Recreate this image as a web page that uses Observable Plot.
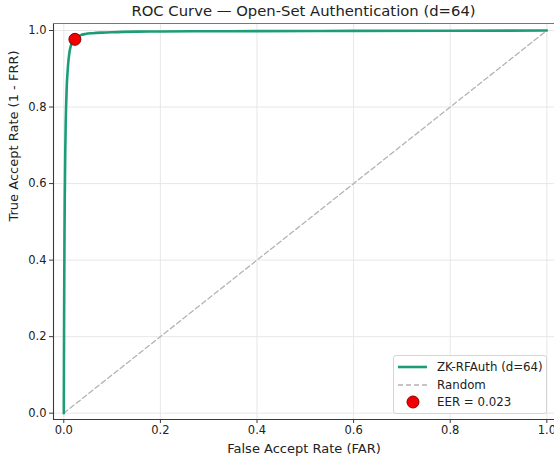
<!DOCTYPE html>
<html>
<head>
<meta charset="utf-8">
<script src="https://cdn.jsdelivr.net/npm/d3@7"></script>
<script src="https://cdn.jsdelivr.net/npm/@observablehq/plot@0.6"></script>
<style>
  body { margin: 0; background: #fff; font-family: "DejaVu Sans", sans-serif; }
  #wrap { position: relative; width: 554px; height: 460px; overflow: hidden; }
  #title { position: absolute; left: 53px; width: 501px; top: 2px; text-align: center; font-size: 14.8px; color: #222; }
  #legend { position: absolute; left: 393px; top: 355px; width: 152px; height: 57px; border: 1px solid #d5d5d5; border-radius: 3px; background: rgba(255,255,255,0.85); font-size: 11.8px; color: #222; }
  .row { position: absolute; left: 0; height: 18px; display: flex; align-items: center; }
  .row svg { margin-left: 2px; }
  .row span { margin-left: 8px; }
</style>
</head>
<body>
<div id="wrap">
  <div id="title">ROC Curve — Open-Set Authentication (d=64)</div>
  <div id="chart"></div>
  <div id="legend"></div>
</div>
<script>
// ROC curve (False Accept Rate vs True Accept Rate)
const far = [0, 0.0002, 0.0005, 0.001, 0.0015, 0.002, 0.003, 0.004, 0.005, 0.006, 0.008, 0.010, 0.012, 0.015, 0.018, 0.023, 0.028, 0.035, 0.045, 0.06, 0.08, 0.10, 0.15, 0.2, 0.3, 0.4, 0.6, 0.8, 1.0];
const tar = [0, 0.08, 0.2, 0.35, 0.47, 0.56, 0.68, 0.76, 0.81, 0.85, 0.895, 0.925, 0.945, 0.962, 0.970, 0.977, 0.983, 0.988, 0.991, 0.993, 0.9945, 0.9955, 0.997, 0.9975, 0.998, 0.9985, 0.999, 0.9995, 1.0];
// Random baseline
const randX = [0, 1];
const randY = [0, 1];
// Equal error rate point
const eerFar = [0.023];
const eerTar = [0.977];
const eerLabel = "EER = 0.023";
const seriesName = "ZK-RFAuth (d=64)";
const ticks = [0, 0.2, 0.4, 0.6, 0.8, 1.0];

const roc = far.map((x, i) => ({x, y: tar[i]}));
const rand = randX.map((x, i) => ({x, y: randY[i]}));
const eer = eerFar.map((x, i) => ({x, y: eerTar[i]}));

const xDom = [-0.0213, 1.0159];
const yDom = [-0.0165, 1.0183];
const green = "#1b9e77";
const spine = "#3a3a3a";

const chart = Plot.plot({
  width: 554,
  height: 460,
  marginLeft: 53,
  marginRight: 0,
  marginTop: 23,
  marginBottom: 41,
  style: { fontFamily: "DejaVu Sans, sans-serif", fontSize: "11px", color: "#222", background: "#fff" },
  x: { domain: xDom, ticks: ticks, tickFormat: d3.format(".1f") },
  y: { domain: yDom, ticks: ticks, tickFormat: d3.format(".1f") },
  marks: [
    Plot.gridX(ticks, { stroke: "#e4e4e4", strokeOpacity: 1, strokeWidth: 0.9 }),
    Plot.gridY(ticks, { stroke: "#e4e4e4", strokeOpacity: 1, strokeWidth: 0.9 }),
    Plot.line(rand, { x: "x", y: "y", stroke: "#b3b3b3", strokeWidth: 1.3, strokeDasharray: "5,3" }),
    Plot.line(roc, { x: "x", y: "y", stroke: green, strokeWidth: 2.6, curve: "monotone-x" }),
    Plot.dot(eer, { x: "x", y: "y", r: 6, fill: "#f20000", stroke: "#8b0000", strokeWidth: 1 }),
    Plot.ruleX([xDom[0]], { stroke: spine, strokeWidth: 1.1 }),
    Plot.ruleY([yDom[0]], { stroke: spine, strokeWidth: 1.1 }),
    Plot.ruleY([yDom[1]], { stroke: "#777", strokeWidth: 1.1 }),
    Plot.axisX(ticks, { tickSize: 4, tickPadding: 2, stroke: spine, fontSize: 11.5, label: null, tickFormat: d3.format(".1f") }),
    Plot.axisY(ticks, { tickSize: 4, tickPadding: 3, stroke: spine, fontSize: 11.5, label: null, tickFormat: d3.format(".1f") }),
    Plot.text(["False Accept Rate (FAR)"], { frameAnchor: "bottom", lineAnchor: "middle", dy: 29, fontSize: 13, fill: "#222" }),
    Plot.text(["True Accept Rate (1 - FRR)"], { frameAnchor: "left", lineAnchor: "middle", dx: -40, rotate: -90, fontSize: 13, fill: "#222" })
  ]
});
document.getElementById("chart").appendChild(chart);

// Legend
const legend = document.getElementById("legend");
const items = [
  { label: seriesName, svg: `<line x1="2" y1="9" x2="31" y2="9" stroke="${green}" stroke-width="2.6"/>` },
  { label: "Random", svg: `<line x1="2" y1="9" x2="31" y2="9" stroke="#b3b3b3" stroke-width="1.3" stroke-dasharray="5,3"/>` },
  { label: eerLabel, svg: `<circle cx="17" cy="9" r="6" fill="#f20000" stroke="#8b0000" stroke-width="1"/>` }
];
items.forEach((it, i) => {
  const row = document.createElement("div");
  row.className = "row";
  row.style.top = (2 + i * 17.7) + "px";
  row.innerHTML = `<svg width="33" height="18">${it.svg}</svg><span>${it.label}</span>`;
  legend.appendChild(row);
});
</script>
</body>
</html>
